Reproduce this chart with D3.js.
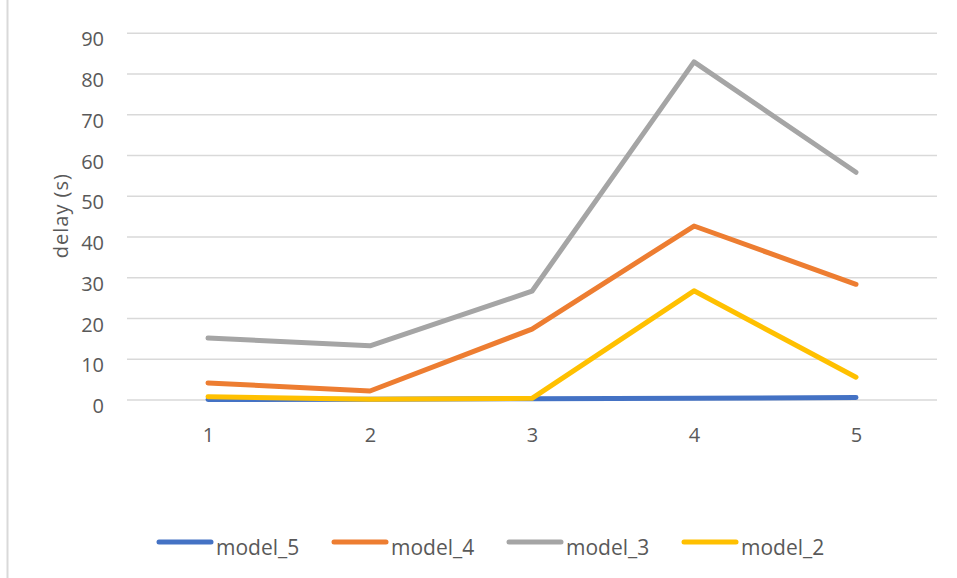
<!DOCTYPE html>
<html>
<head>
<meta charset="utf-8">
<script src="https://cdn.jsdelivr.net/npm/d3@7"></script>
<style>
  html, body { margin: 0; padding: 0; background: #fff; }
  svg { display: block; font-family: "Open Sans", "Segoe UI", sans-serif; }
</style>
</head>
<body>
<svg id="chart" width="957" height="578"></svg>
<script>
// Runs on the x axis
const categories = [1, 2, 3, 4, 5];

// Delay in seconds per model
const model_5 = [0.1, 0.2, 0.3, 0.4, 0.6];
const model_4 = [4.2, 2.2, 17.4, 42.7, 28.4];
const model_3 = [15.2, 13.3, 26.7, 83.0, 55.9];
const model_2 = [0.8, 0.2, 0.4, 26.8, 5.6];

const yTicks = [0, 10, 20, 30, 40, 50, 60, 70, 80, 90];

const seriesNames = ["model_5", "model_4", "model_3", "model_2"];
const seriesValues = [model_5, model_4, model_3, model_2];
const seriesColors = ["#4472C4", "#ED7D31", "#A5A5A5", "#FFC000"];

const svg = d3.select("#chart");

// chart frame edge on the left
svg.append("line")
  .attr("x1", 7.5).attr("x2", 7.5)
  .attr("y1", 0).attr("y2", 578)
  .attr("stroke", "#D9D9D9").attr("stroke-width", 2);

const plot = { left: 127, right: 937, top: 33.3, bottom: 400 };

const x = d3.scalePoint()
  .domain(categories)
  .range([plot.left, plot.right])
  .padding(0.5);

const y = d3.scaleLinear()
  .domain([0, 90])
  .range([plot.bottom, plot.top]);

// horizontal gridlines
svg.append("g")
  .selectAll("line")
  .data(yTicks)
  .join("line")
  .attr("x1", plot.left).attr("x2", plot.right)
  .attr("y1", d => y(d)).attr("y2", d => y(d))
  .attr("stroke", "#D9D9D9").attr("stroke-width", 1.5);

// y axis labels
const yAxis = d3.axisLeft(y).tickValues(yTicks).tickSize(0).tickPadding(0);
const gy = svg.append("g")
  .attr("transform", `translate(${plot.left - 23},0)`)
  .call(yAxis);
gy.select(".domain").remove();
gy.selectAll("text")
  .attr("fill", "#595959")
  .style("font-size", "20px")
  .style("font-family", "'Open Sans', sans-serif")
  .attr("dy", "0.63em");

// x axis labels
const xAxis = d3.axisBottom(x).tickSize(0).tickPadding(0);
const gx = svg.append("g")
  .attr("transform", `translate(0,${plot.bottom + 28})`)
  .call(xAxis);
gx.select(".domain").remove();
gx.selectAll("text")
  .attr("fill", "#595959")
  .style("font-size", "20px")
  .style("font-family", "'Open Sans', sans-serif")
  .attr("dy", "0.71em");

// y axis title
svg.append("text")
  .attr("transform", `translate(68,${(plot.top + plot.bottom) / 2 - 1}) rotate(-90)`)
  .attr("text-anchor", "middle")
  .attr("fill", "#595959")
  .style("font-size", "20px")
  .style("letter-spacing", "1px")
  .text("delay (s)");

// series lines
const line = d3.line()
  .x((d, i) => x(categories[i]))
  .y(d => y(d));

svg.append("g")
  .selectAll("path")
  .data(seriesValues)
  .join("path")
  .attr("d", d => line(d))
  .attr("fill", "none")
  .attr("stroke", (d, i) => seriesColors[i])
  .attr("stroke-width", 5)
  .attr("stroke-linecap", "round")
  .attr("stroke-linejoin", "round");

// legend
const legend = svg.append("g").attr("transform", "translate(157,547)");
const item = legend.selectAll("g")
  .data(seriesNames)
  .join("g")
  .attr("transform", (d, i) => `translate(${i * 175},0)`);
item.append("line")
  .attr("x1", 2).attr("x2", 54)
  .attr("y1", -5).attr("y2", -5)
  .attr("stroke", (d, i) => seriesColors[i])
  .attr("stroke-width", 5)
  .attr("stroke-linecap", "round");
item.append("text")
  .attr("x", 59)
  .attr("y", 1)
  .attr("dy", "0.34em")
  .attr("fill", "#595959")
  .style("font-size", "21px")
  .text(d => d);
</script>
</body>
</html>
